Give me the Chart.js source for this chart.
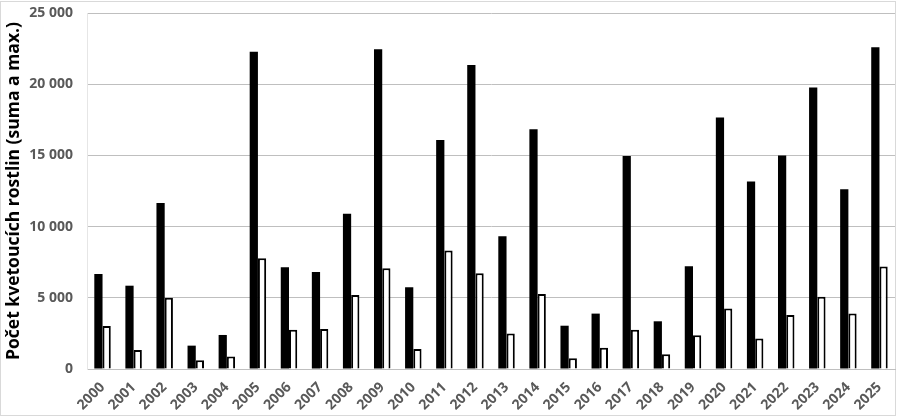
<!DOCTYPE html>
<html lang="cs">
<head>
  <meta charset="UTF-8" />
  <title>Počet kvetoucích rostlin</title>
  <script src="https://cdn.jsdelivr.net/npm/chart.js"></script>
  <style>
    body { margin: 0; background: #fff; }
    .chart-box { position: relative; width: 900px; height: 418px; }
  </style>
</head>
<body>
<div class="chart-box">
  <canvas id="plantChart"></canvas>
</div>
<script>
  const years = ['2000','2001','2002','2003','2004','2005','2006','2007','2008','2009','2010','2011','2012',
                 '2013','2014','2015','2016','2017','2018','2019','2020','2021','2022','2023','2024','2025'];
  // suma (black bars)
  const sumValues = [6670, 5850, 11660, 1640, 2390, 22280, 7140, 6810, 10910, 22450, 5740, 16080, 21350,
                     9320, 16830, 3040, 3890, 14960, 3350, 7210, 17670, 13160, 15000, 19760, 12620, 22590];
  // max (white bars)
  const maxValues = [3020, 1330, 5010, 610, 870, 7770, 2760, 2810, 5200, 7070, 1400, 8330, 6720,
                     2500, 5270, 750, 1500, 2760, 1030, 2370, 4240, 2150, 3790, 5080, 3890, 7190];
  const yTicks = [0, 5000, 10000, 15000, 20000, 25000];

  const textColor = '#595959';
  const gridColor = '#bfbfbf';
  const fmt = v => String(v).replace(/\B(?=(\d{3})+(?!\d))/g, ' ');

  // light frame around the chart
  const framePlugin = {
    id: 'frame',
    beforeDraw(chart) {
      const ctx = chart.ctx;
      ctx.save();
      ctx.strokeStyle = '#d9d9d9';
      ctx.lineWidth = 1;
      ctx.strokeRect(0.5, 1.5, 895, 414);
      ctx.restore();
    }
  };

  new Chart(document.getElementById('plantChart'), {
    type: 'bar',
    data: {
      labels: years,
      datasets: [
        { label: 'suma', data: sumValues, backgroundColor: '#000', borderWidth: 0,
          categoryPercentage: 0.53, barPercentage: 1.0 },
        { label: 'max.', data: maxValues, backgroundColor: '#fff', borderColor: '#000', borderWidth: 2,
          categoryPercentage: 0.53, barPercentage: 1.0 }
      ]
    },
    options: {
      responsive: true,
      maintainAspectRatio: false,
      animation: false,
      layout: { padding: { left: 0, right: 5, top: 13, bottom: 0 } },
      plugins: { legend: { display: false }, tooltip: { enabled: false } },
      scales: {
        x: {
          grid: { display: false },
          border: { color: gridColor },
          ticks: {
            color: textColor, font: { family: 'Open Sans', size: 14, weight: 'bold' },
            minRotation: 45, maxRotation: 45, padding: 2
          },
          afterFit(scale) { scale.height = 49; }
        },
        y: {
          min: 0, max: 25000,
          grid: { color: gridColor, drawTicks: false },
          border: { display: true, color: '#e6e6e6' },
          afterBuildTicks(scale) { scale.ticks = yTicks.map(v => ({ value: v })); },
          ticks: {
            color: textColor, font: { family: 'Open Sans', size: 14, weight: 'bold' },
            padding: 14, callback: v => fmt(v)
          },
          title: {
            display: true, text: 'Počet kvetoucích rostlin (suma a max.)',
            color: '#000', font: { family: 'Open Sans', size: 17.5, weight: 'bold' }, padding: { top: 4, bottom: 2 }
          },
          afterFit(scale) {
            scale.width = 87;
            scale.paddingTop = 0;
            scale.paddingBottom = 0;
          }
        }
      }
    },
    plugins: [framePlugin]
  });
</script>
</body>
</html>
